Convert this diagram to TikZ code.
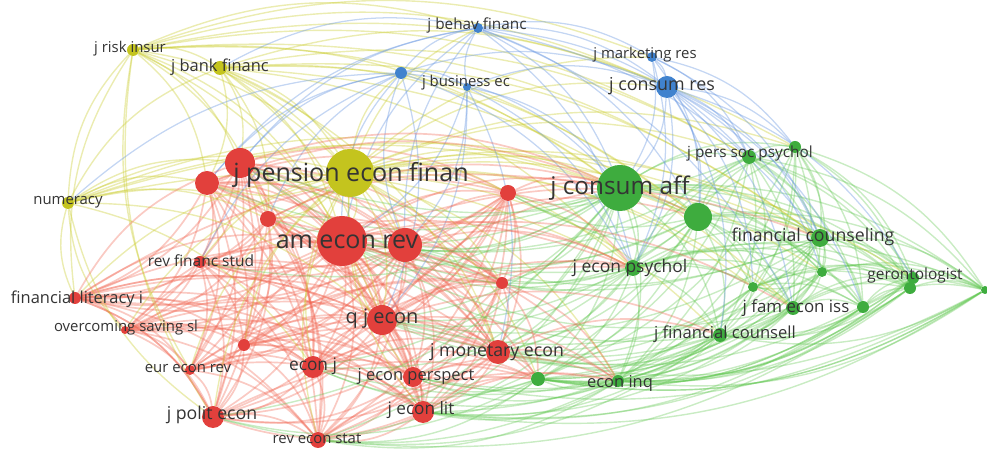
\documentclass[tikz,border=0pt]{standalone}
\usepackage{fontspec}
\setmainfont{Open Sans}
\usetikzlibrary{positioning}
\definecolor{vosred}{RGB}{226,64,60}
\definecolor{vosyellow}{RGB}{196,196,30}
\definecolor{vosgreen}{RGB}{62,172,62}
\definecolor{vosblue}{RGB}{64,130,206}
\definecolor{redline}{RGB}{240,100,80}
\definecolor{greenline}{RGB}{96,198,80}
\definecolor{yellowline}{RGB}{200,202,40}
\definecolor{blueline}{RGB}{100,148,224}
\definecolor{labelgray}{RGB}{52,52,52}
\newcommand{\vosfont}[1]{\fontsize{#1}{#1}\selectfont}
\pgfdeclarelayer{background}
\pgfsetlayers{background,main}

\begin{document}
\begin{tikzpicture}[
    x=0.025cm, y=-0.025cm,
    dot/.style={circle, inner sep=0pt, draw=none},
    rnode/.style={dot, fill=vosred},
    ynode/.style={dot, fill=vosyellow},
    gnode/.style={dot, fill=vosgreen},
    bnode/.style={dot, fill=vosblue},
    lbl/.style={inner sep=0pt, text=labelgray},
    redlink/.style={draw=redline, line width=1.2pt, opacity=0.34},
    greenlink/.style={draw=greenline, line width=1pt, opacity=0.34},
    yellowlink/.style={draw=yellowline, line width=1pt, opacity=0.36},
    bluelink/.style={draw=blueline, line width=0.9pt, opacity=0.38},
    link/.style={bend left=20}
]
    \useasboundingbox (0,0) rectangle (987,457);

    % yellow cluster
    \node[ynode, minimum size=3mm] (risk) at (133,50) {};
    \node[ynode, minimum size=3.5mm] (bank) at (220,68) {};
    \node[ynode, minimum size=3mm] (numer) at (68,203) {};

    % red cluster
    \node[rnode, minimum size=7.5mm] (r1) at (240,163) {};
    \node[rnode, minimum size=6mm] (r2) at (207,183) {};
    \node[rnode, minimum size=8.5mm] (r3) at (405,245) {};
    \node[rnode, minimum size=4mm] (r4) at (268,219) {};
    \node[rnode, minimum size=4mm] (r5) at (508,193) {};
    \node[rnode, minimum size=3mm] (rfs) at (200,262) {};
    \node[rnode, minimum size=3mm] (finlit) at (75,298) {};
    \node[rnode, minimum size=2mm] (overc) at (125,330) {};
    \node[rnode, minimum size=3mm] (r6) at (244,345) {};
    \node[rnode, minimum size=2.5mm] (eur) at (190,370) {};
    \node[rnode, minimum size=5.5mm] (econj) at (313,367) {};
    \node[rnode, minimum size=7.5mm] (qje) at (382,320) {};
    \node[rnode, minimum size=3mm] (r7) at (502,283) {};
    \node[rnode, minimum size=6mm] (monet) at (498,352) {};
    \node[rnode, minimum size=5mm] (persp) at (413,377) {};
    \node[rnode, minimum size=5.5mm] (lit) at (423,412) {};
    \node[rnode, minimum size=5.5mm] (polit) at (213,417) {};
    \node[rnode, minimum size=4mm] (stat) at (318,440) {};
    \node[rnode, minimum size=12.5mm] (amer) at (342,241) {};
    \node[ynode, minimum size=12mm] (pension) at (350,173) {};

    % green cluster
    \node[gnode, minimum size=11.5mm] (aff) at (620,188) {};
    \node[gnode, minimum size=7mm] (g2) at (698,217) {};
    \node[gnode, minimum size=4mm] (psych) at (633,268) {};
    \node[gnode, minimum size=3.5mm] (pers) at (749,157) {};
    \node[gnode, minimum size=3mm] (g3) at (795,147) {};
    \node[gnode, minimum size=4.5mm] (counseling) at (820,238) {};
    \node[gnode, minimum size=2.5mm] (g4) at (822,272) {};
    \node[gnode, minimum size=2.5mm] (g5) at (753,287) {};
    \node[gnode, minimum size=3.5mm] (fam) at (793,308) {};
    \node[gnode, minimum size=3mm] (g6) at (863,307) {};
    \node[gnode, minimum size=3mm] (geron) at (913,278) {};
    \node[gnode, minimum size=3mm] (g8) at (910,288) {};
    \node[gnode, minimum size=2mm] (g7) at (985,290) {};
    \node[gnode, minimum size=3.5mm] (counsell) at (720,335) {};
    \node[gnode, minimum size=3mm] (inq) at (618,381) {};
    \node[gnode, minimum size=3.5mm] (g1) at (538,379) {};

    % blue cluster
    \node[bnode, minimum size=2.5mm] (behav) at (478,28) {};
    \node[bnode, minimum size=3mm] (b1) at (401,73) {};
    \node[bnode, minimum size=2mm] (busin) at (467,87) {};
    \node[bnode, minimum size=2.5mm] (market) at (652,57) {};
    \node[bnode, minimum size=5.5mm] (consres) at (667,87) {};

    % links
    \begin{pgfonlayer}{background}
    \foreach \a [count=\i] in {r1,r2,amer,r3,r4,r5,rfs,finlit,overc,r6,eur,econj,qje,r7,monet,persp,lit,polit,stat}
      \foreach \b [count=\j] in {r1,r2,amer,r3,r4,r5,rfs,finlit,overc,r6,eur,econj,qje,r7,monet,persp,lit,polit,stat}
        {\ifnum\j>\i \draw[redlink] (\a) to[link] (\b); \fi}
    \foreach \a [count=\i] in {aff,g2,psych,pers,g3,counseling,g4,g5,fam,g6,geron,g8,g7,counsell,inq,g1}
      \foreach \b [count=\j] in {aff,g2,psych,pers,g3,counseling,g4,g5,fam,g6,geron,g8,g7,counsell,inq,g1}
        {\ifnum\j>\i \draw[greenlink] (\a) to[link] (\b); \fi}
    \foreach \a/\b in {finlit/risk,numer/risk,numer/bank,risk/bank,bank/pension,risk/pension,numer/pension,
        polit/risk,eur/risk,
        risk/r1,risk/r2,risk/amer,risk/r3,risk/r4,risk/qje,risk/aff,risk/consres,risk/g2,risk/g3,
        risk/pers,risk/counseling,risk/behav,risk/market,
        bank/r1,bank/r2,bank/amer,bank/r3,bank/r4,bank/qje,bank/aff,bank/g2,bank/psych,bank/monet,
        bank/pers,bank/counseling,bank/fam,bank/consres,
        numer/r1,numer/r2,numer/amer,numer/aff,numer/psych,numer/qje,numer/econj,numer/r4,
        numer/g2,numer/counseling,finlit/numer,overc/numer,polit/numer,
        pension/r1,pension/r2,pension/amer,pension/r3,pension/r4,pension/r5,pension/r7,pension/qje,
        pension/monet,pension/aff,pension/g2,pension/psych,pension/counseling,pension/counsell,
        pension/fam,pension/inq,pension/pers,pension/consres,pension/behav,pension/b1,pension/g1,
        pension/g3,pension/geron,pension/g4,pension/g5,pension/market,
        rfs/pension,finlit/pension,overc/pension,econj/pension,persp/pension,lit/pension,polit/pension,
        eur/pension,stat/pension,r6/pension}
      \draw[yellowlink] (\a) to[link] (\b);
    \foreach \a/\b in {aff/amer,aff/r3,aff/r5,aff/r7,aff/qje,aff/monet,aff/persp,aff/lit,aff/econj,
        aff/polit,aff/r1,aff/r2,aff/rfs,aff/stat,aff/r4,g2/amer,g2/r3,g2/qje,g2/monet,g2/r5,
        g2/lit,g2/r7,counseling/amer,counseling/qje,counseling/monet,counseling/r5,counseling/r3,
        g7/lit,g7/persp,g7/monet,g7/g1,g6/g1,g6/lit,g8/lit,g8/stat,geron/inq,geron/monet,
        fam/qje,fam/lit,fam/monet,fam/amer,fam/persp,counsell/monet,counsell/lit,counsell/persp,
        counsell/qje,counsell/amer,counsell/econj,counsell/stat,psych/amer,psych/qje,psych/r3,
        psych/r7,psych/econj,psych/stat,psych/monet,psych/r1,inq/lit,inq/persp,inq/stat,
        inq/polit,inq/econj,g1/lit,g1/persp,g1/stat,g1/econj,g1/polit,g4/g1,g5/lit,g5/monet,
        g4/qje,pers/amer,pers/r1,g3/amer}
      \draw[greenlink] (\a) to[link] (\b);
    \foreach \a/\b in {b1/behav,behav/consres,behav/market,b1/busin,busin/behav,market/consres,
        b1/consres,busin/consres,r1/behav,r2/behav,amer/behav,r3/behav,bank/behav,
        behav/aff,behav/g2,behav/psych,behav/pers,behav/counseling,behav/fam,r1/b1,r2/b1,amer/b1,
        r3/b1,r4/b1,b1/qje,b1/aff,b1/psych,rfs/b1,busin/amer,busin/r3,busin/aff,busin/qje,
        busin/psych,busin/monet,consres/aff,consres/g2,consres/pers,consres/g3,consres/counseling,
        consres/psych,consres/fam,consres/geron,consres/g5,consres/counsell,consres/g4,consres/g6,
        market/aff,market/g2,market/pers,market/g3,market/psych,market/counseling,numer/b1}
      \draw[bluelink] (\a) to[link] (\b);
    \foreach \a/\b in {amer/psych,amer/counseling,amer/fam,amer/g1,amer/inq,amer/aff,qje/psych,
        qje/inq,qje/g1,qje/counsell,qje/aff,r5/aff,r5/g2,r5/psych,r7/psych,r7/inq,r7/g1,
        monet/g1,monet/inq,monet/counsell,lit/inq,lit/g1,persp/g1,persp/inq,stat/inq,stat/g1,
        r1/aff,r2/aff,r3/g2,r3/psych,econj/psych,econj/g1,finlit/aff,polit/g1,r4/aff,
        rfs/psych,finlit/r1,finlit/amer,finlit/qje,overc/amer,polit/amer,eur/amer,finlit/polit}
      \draw[redlink] (\a) to[link] (\b);
    \end{pgfonlayer}

    % labels
    \node[lbl, font=\vosfont{10.6}] (risk-t) at (130,49) {j risk insur};
    \node[lbl, font=\vosfont{11.7}] (bank-t) at (220,67) {j bank financ};
    \node[lbl, font=\vosfont{10.6}] (numer-t) at (68,202) {numeracy};
    \node[lbl, font=\vosfont{17.8}] (pension-t) at (351,175) {j pension econ finan};
    \node[lbl, font=\vosfont{17.8}] (amer-t) at (347,242) {am econ rev};
    \node[lbl, font=\vosfont{11}] (rfs-t) at (201,261) {rev financ stud};
    \node[lbl, font=\vosfont{11.7}] (finlit-t) at (77,299) {financial literacy i};
    \node[lbl, font=\vosfont{10.6}] (overc-t) at (126,328) {overcoming saving sl};
    \node[lbl, font=\vosfont{10.6}] (eur-t) at (188,369) {eur econ rev};
    \node[lbl, font=\vosfont{12.6}] (polit-t) at (212,415) {j polit econ};
    \node[lbl, font=\vosfont{10.6}] (stat-t) at (317,439) {rev econ stat};
    \node[lbl, font=\vosfont{12.3}] (econj-t) at (313,366) {econ j};
    \node[lbl, font=\vosfont{14.2}] (qje-t) at (382,319) {q j econ};
    \node[lbl, font=\vosfont{12.6}] (monet-t) at (497,352) {j monetary econ};
    \node[lbl, font=\vosfont{11.7}] (persp-t) at (416,376) {j econ perspect};
    \node[lbl, font=\vosfont{12.2}] (lit-t) at (421,410) {j econ lit};
    \node[lbl, font=\vosfont{11.7}] (inq-t) at (620,383) {econ inq};
    \node[lbl, font=\vosfont{12.4}] (psych-t) at (630,268) {j econ psychol};
    \node[lbl, font=\vosfont{17.3}] (aff-t) at (620,188) {j consum aff};
    \node[lbl, font=\vosfont{10.9}] (pers-t) at (750,154) {j pers soc psychol};
    \node[lbl, font=\vosfont{12.6}] (counseling-t) at (813,237) {financial counseling};
    \node[lbl, font=\vosfont{11}] (geron-t) at (915,275) {gerontologist};
    \node[lbl, font=\vosfont{12}] (fam-t) at (796,308) {j fam econ iss};
    \node[lbl, font=\vosfont{11.8}] (counsell-t) at (725,334) {j financial counsell};
    \node[lbl, font=\vosfont{10.9}] (behav-t) at (477,25) {j behav financ};
    \node[lbl, font=\vosfont{10.6}] (busin-t) at (466,83) {j business ec};
    \node[lbl, font=\vosfont{10.6}] (market-t) at (645,55) {j marketing res};
    \node[lbl, font=\vosfont{12.7}] (consres-t) at (662,86) {j consum res};
\end{tikzpicture}
\end{document}
